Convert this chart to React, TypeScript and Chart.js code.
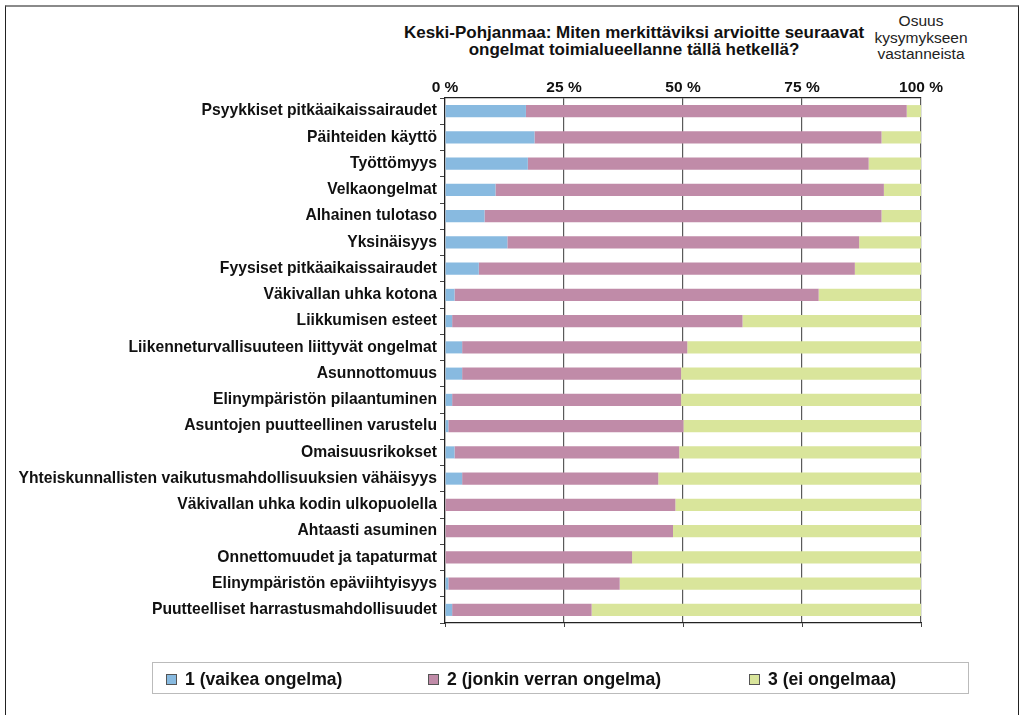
import React, { useEffect, useRef } from "react";
import { Chart, registerables } from "chart.js";

Chart.register(...registerables);

const categories: string[] = [
  "Psyykkiset pitkäaikaissairaudet",
  "Päihteiden käyttö",
  "Työttömyys",
  "Velkaongelmat",
  "Alhainen tulotaso",
  "Yksinäisyys",
  "Fyysiset pitkäaikaissairaudet",
  "Väkivallan uhka kotona",
  "Liikkumisen esteet",
  "Liikenneturvallisuuteen liittyvät ongelmat",
  "Asunnottomuus",
  "Elinympäristön pilaantuminen",
  "Asuntojen puutteellinen varustelu",
  "Omaisuusrikokset",
  "Yhteiskunnallisten vaikutusmahdollisuuksien vähäisyys",
  "Väkivallan uhka kodin ulkopuolella",
  "Ahtaasti asuminen",
  "Onnettomuudet ja tapaturmat",
  "Elinympäristön epäviihtyisyys",
  "Puutteelliset harrastusmahdollisuudet",
];

const severe: number[] = [17.0, 18.8, 17.4, 10.6, 8.3, 13.1, 7.1, 2.0, 1.5, 3.6, 3.6, 1.5, 0.7, 2.0, 3.6, 0, 0, 0, 0.7, 1.5];
const somewhat: number[] = [80.0, 72.9, 71.6, 81.6, 83.4, 73.9, 79.0, 76.5, 61.0, 47.3, 46.0, 48.1, 49.4, 47.2, 41.2, 48.4, 47.9, 39.3, 36.0, 29.3];
const none: number[] = [3.0, 8.3, 11.0, 7.8, 8.3, 13.0, 13.9, 21.5, 37.5, 49.1, 50.4, 50.4, 49.9, 50.8, 55.2, 51.6, 52.1, 60.7, 63.3, 69.2];

const seriesNames: string[] = ["1 (vaikea ongelma)", "2 (jonkin verran ongelma)", "3 (ei ongelmaa)"];
const seriesColors: string[] = ["#88BAE0", "#C08BA8", "#D9E59B"];

const titleLines: string[] = [
  "Keski-Pohjanmaa: Miten merkittäviksi arvioitte seuraavat",
  "ongelmat toimialueellanne tällä hetkellä?",
];
const sideNote: string[] = ["Osuus", "kysymykseen", "vastanneista"];

const FONT = '"Liberation Sans", Arial, Helvetica, sans-serif';

export default function App() {
  const canvasRef = useRef<HTMLCanvasElement | null>(null);

  useEffect(() => {
    if (!canvasRef.current) return;
    const chart = new Chart(canvasRef.current, {
      type: "bar",
      data: {
        labels: categories,
        datasets: [
          { label: seriesNames[0], data: severe, backgroundColor: seriesColors[0], borderWidth: 0 },
          { label: seriesNames[1], data: somewhat, backgroundColor: seriesColors[1], borderWidth: 0 },
          { label: seriesNames[2], data: none, backgroundColor: seriesColors[2], borderWidth: 0 },
        ],
      },
      options: {
        indexAxis: "y",
        animation: false,
        responsive: true,
        maintainAspectRatio: false,
        datasets: { bar: { barPercentage: 0.46, categoryPercentage: 1 } },
        layout: { padding: { top: 78, right: 102, bottom: 82, left: 0 } },
        plugins: { legend: { display: false }, title: { display: false }, tooltip: { enabled: false } },
        scales: {
          x: {
            type: "linear",
            position: "top",
            stacked: true,
            min: 0,
            max: 100,
            ticks: {
              stepSize: 25,
              padding: 1,
              color: "#111",
              font: { family: FONT, size: 15.5, weight: "bold" },
              callback: (v: any) => v + " %",
            },
            grid: { color: "#5a5a5a", lineWidth: 1.2, drawTicks: false },
            border: { display: true, color: "#222", width: 1.2 },
            afterFit: (s: any) => { s.height = 20; },
          },
          x2: {
            type: "linear",
            axis: "x",
            position: "bottom",
            min: 0,
            max: 100,
            ticks: { stepSize: 25, display: false },
            grid: { drawOnChartArea: false, drawTicks: true, tickLength: 4, color: "#444" },
            border: { display: true, color: "#222", width: 1.2 },
            afterFit: (s: any) => { s.height = 10; },
          },
          y: {
            stacked: true,
            ticks: {
              padding: 3,
              color: "#111",
              font: { family: FONT, size: 15.7, weight: "bold" },
              autoSkip: false,
            },
            grid: { offset: true, drawOnChartArea: false, drawTicks: true, tickLength: 5, color: "#444" },
            border: { display: true, color: "#222", width: 1.2 },
            afterFit: (s: any) => { s.width = 445; },
          },
        },
      } as any,
    });
    return () => chart.destroy();
  }, []);

  return (
    <div style={{ position: "absolute", left: 0, top: 0, width: 1023, height: 715, overflow: "hidden", background: "#fff", fontFamily: FONT }}>
      <div style={{ position: "absolute", left: 5, top: 5, width: 1012, height: 720, borderLeft: "1px solid #222", borderRight: "1px solid #222", borderTop: "2px solid #8a8a8a" }} />
      <div style={{ position: "absolute", left: 334, top: 24, width: 600, textAlign: "center", fontWeight: "bold", fontSize: 17, lineHeight: "17px", color: "#111" }}>
        {titleLines.map((t, i) => <div key={i}>{t}</div>)}
      </div>
      <div style={{ position: "absolute", left: 861, top: 13, width: 120, textAlign: "center", fontSize: 15.5, lineHeight: "16.5px", color: "#222" }}>
        {sideNote.map((t, i) => <div key={i}>{t}</div>)}
      </div>
      <div style={{ position: "absolute", left: 0, top: 0, width: 1023, height: 715 }}>
        <canvas ref={canvasRef} />
      </div>
      <div style={{ position: "absolute", left: 152, top: 662, width: 815, height: 30, border: "1px solid #bbb" }} />
      {seriesNames.map((n, i) => {
        const xs = [166, 428, 749];
        return (
          <div key={i} style={{ position: "absolute", left: xs[i], top: 668, height: 22, display: "flex", alignItems: "center", whiteSpace: "nowrap" }}>
            <span style={{ display: "inline-block", width: 9, height: 9, background: seriesColors[i], border: "1px solid #555", marginRight: 8 }} />
            <span style={{ fontWeight: "bold", fontSize: 17.6, color: "#111" }}>{n}</span>
          </div>
        );
      })}
    </div>
  );
}
